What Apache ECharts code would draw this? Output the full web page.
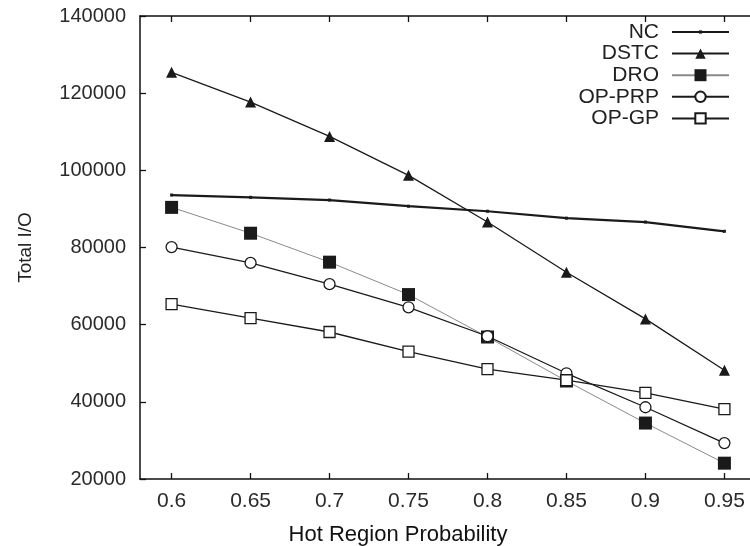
<!DOCTYPE html>
<html>
<head>
<meta charset="utf-8">
<script src="https://cdn.jsdelivr.net/npm/echarts@6/dist/echarts.min.js"></script>
<style>
  html, body { margin: 0; padding: 0; background: #fff; }
  #chart { width: 750px; height: 546px; }
</style>
</head>
<body>
<div id="chart"></div>
<script>
// hot region probability (x values)
var probs = [0.6, 0.65, 0.7, 0.75, 0.8, 0.85, 0.9, 0.95];

// total I/O per method
var nc = [93600, 93000, 92300, 90700, 89400, 87600, 86600, 84200];
var dstc = [125400, 117700, 108800, 98700, 86600, 73600, 61500, 48200];
var dro = [90400, 83700, 76200, 67800, 56800, 45400, 34500, 24100];
var opPrp = [80100, 76000, 70500, 64500, 57000, 47400, 38600, 29300];
var opGp = [65300, 61700, 58100, 53000, 48500, 45600, 42300, 38100];

var names = ['NC', 'DSTC', 'DRO', 'OP-PRP', 'OP-GP'];

function pairs(ys) {
  return probs.map(function (x, i) { return [x, ys[i]]; });
}

var font = 'Liberation Sans, Arial, sans-serif';
var dark = '#1a1a1a';

function lineSeries(name, ys, opt) {
  return {
    name: name,
    type: 'line',
    data: pairs(ys),
    symbol: opt.symbol,
    symbolSize: opt.size,
    showSymbol: true,
    animation: false,
    lineStyle: { color: opt.line || dark, width: opt.width || 1.3 },
    itemStyle: {
      color: opt.fill || dark,
      borderColor: dark,
      borderWidth: opt.border || 0
    },
    emphasis: { disabled: true }
  };
}

// one legend per entry so every sample marker can keep its own size
// (line legend icons draw the symbol at 0.8 * itemHeight)
var legendIconH = [4, 13, 15, 13, 13];
function legendFor(i) {
  return {
    orient: 'vertical',
    right: 20,
    top: 21 + i * 21.6,
    padding: 0,
    align: 'right',
    itemWidth: 57,
    itemHeight: legendIconH[i],
    selectedMode: false,
    textStyle: { fontFamily: font, fontSize: 21, color: '#222', lineHeight: 22, padding: [0, 8, 0, 0] },
    data: [names[i]]
  };
}

var myChart = echarts.init(document.getElementById('chart'), null, { renderer: 'canvas' });

var tickStyle = { color: '#111', width: 1.3 };
var axisLineStyle = { color: '#111', width: 1.5 };

var options = {
  backgroundColor: '#fff',
  animation: false,
  grid: { left: 140, top: 16, width: 616, height: 463, outerBoundsMode: 'none', containLabel: false },
  legend: names.map(function (n, i) { return legendFor(i); }),
  xAxis: [{
    type: 'value',
    min: 0.58,
    max: 0.97,
    name: 'Hot Region Probability',
    nameLocation: 'middle',
    nameGap: 45,
    nameTextStyle: { fontFamily: font, fontSize: 22, color: '#111', padding: [0, 100, 0, 0] },
    axisLine: { show: true, onZero: false, lineStyle: axisLineStyle },
    axisTick: { show: true, inside: true, length: 6, customValues: probs, lineStyle: tickStyle },
    axisLabel: {
      customValues: probs,
      margin: 12,
      fontFamily: font,
      fontSize: 21,
      color: '#2a2a2a',
      formatter: function (v) { return String(+v.toFixed(2)); }
    },
    splitLine: { show: false }
  }, {
    // mirrored ticks on the top frame
    type: 'value',
    position: 'top',
    min: 0.58,
    max: 0.97,
    axisLine: { show: true, onZero: false, lineStyle: axisLineStyle },
    axisTick: { show: true, inside: true, length: 6, customValues: probs, lineStyle: tickStyle },
    axisLabel: { show: false },
    splitLine: { show: false }
  }],
  yAxis: {
    type: 'value',
    min: 20000,
    max: 140000,
    interval: 20000,
    name: 'Total I/O',
    nameLocation: 'middle',
    nameRotate: 90,
    nameGap: 105,
    nameTextStyle: { fontFamily: font, fontSize: 19, color: '#222' },
    axisLine: { show: true, lineStyle: axisLineStyle },
    axisTick: { show: true, inside: true, length: 6, lineStyle: tickStyle },
    axisLabel: {
      margin: 14,
      fontFamily: font,
      fontSize: 20,
      color: '#2a2a2a',
      formatter: function (v) { return String(v); }
    },
    splitLine: { show: false }
  },
  series: [
    lineSeries('NC', nc, { symbol: 'rect', size: 3, width: 2.2 }),
    lineSeries('DSTC', dstc, { symbol: 'triangle', size: 11 }),
    lineSeries('DRO', dro, { symbol: 'rect', size: 13, line: '#8a8a8a', width: 1 }),
    lineSeries('OP-PRP', opPrp, { symbol: 'circle', size: 11, fill: '#fff', border: 1.3 }),
    lineSeries('OP-GP', opGp, { symbol: 'rect', size: 11, fill: '#fff', border: 1.3 })
  ]
};

myChart.setOption(options);
</script>
</body>
</html>
